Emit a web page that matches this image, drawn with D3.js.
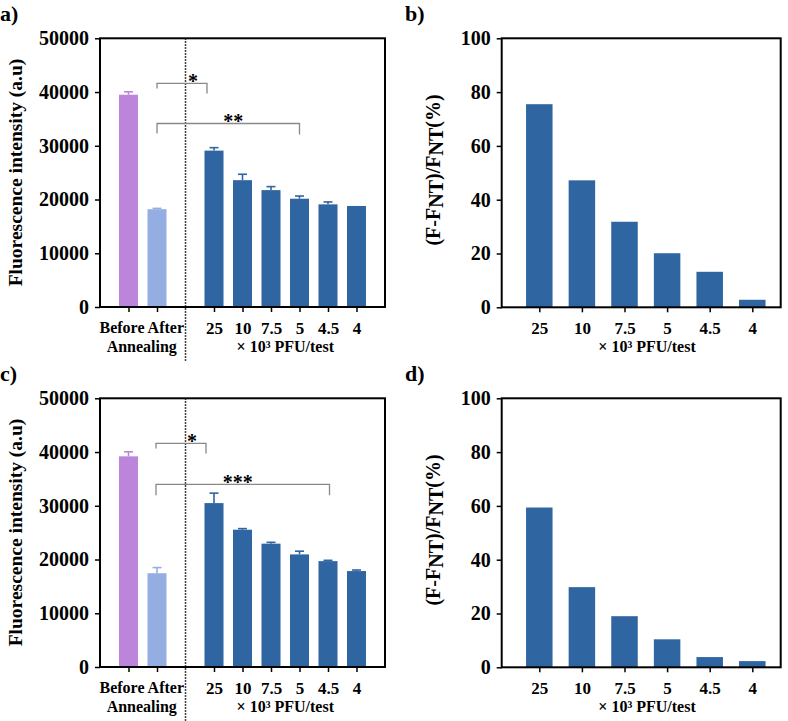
<!DOCTYPE html>
<html><head><meta charset="utf-8">
<script src="https://cdn.jsdelivr.net/npm/d3@7"></script>
<style>
body{margin:0;background:#fff}
svg text{font-family:"Liberation Serif","DejaVu Serif",serif !important;font-weight:bold;fill:#000}
</style>
</head><body><svg id="chart" width="788" height="721" font-family="Liberation Serif, serif"></svg>
<script>
// ---------- data ----------
const groupCats = ["Before","After","","25","10","7.5","5","4.5","4"];
const pfuLabels = ["25","10","7.5","5","4.5","4"];
const fluorA = [39500,18200,null,29100,23600,21750,20150,19100,18800];
const fluorAErr = [550,150,null,550,1100,650,500,450,0];
const fluorC = [39200,17450,null,30500,25550,22950,20950,19700,17850];
const fluorCErr = [850,1050,null,1850,200,250,600,150,200];
const pctB = [75.5,47.2,31.8,20.1,13.2,2.8];
const pctD = [59.4,29.8,19.0,10.4,3.8,2.3];
const fluorTicks = [0,10000,20000,30000,40000,50000];
const pctTicks = [0,20,40,60,80,100];
const sigA = [{from:"After",to:"25",level:41600,label:"*"},{from:"After",to:"5",level:34150,label:"**"}];
const sigC = [{from:"After",to:"25",level:41600,label:"*"},{from:"After",to:"4.5",level:34000,label:"***"}];
const groupText = "Before After", groupText2 = "Annealing", unitText = "× 10³ PFU/test";

const FONT = "'Liberation Serif', 'DejaVu Serif', serif";
const svg = d3.select("#chart");
const colorOf = c => c==="Before" ? "#BD84DB" : c==="After" ? "#95AEE1" : "#2F65A0";

function styleText(sel,size){ sel.attr("font-family",FONT).style("font-family",FONT).style("font-weight","bold").style("font-size",size+"px"); return sel; }
function panelLabel(t,x,y){ styleText(svg.append("text").attr("x",x).attr("y",y),22).text(t); }

function fluorPanel(oy, vals, errs, sigs, label, dottedEnd, bracketCfg){
  const g = svg.append("g").attr("transform",`translate(0,${oy})`);
  const x = d3.scaleLinear().domain([0,10]).range([100,385]);
  const y = d3.scaleLinear().domain([0,50000]).range([307,38.3]);
  const pos = c => x(groupCats.indexOf(c)+1);
  const bw = 19;
  const data = groupCats.map((c,i)=>({c,v:vals[i],e:errs[i]})).filter(d=>d.v!=null);
  g.selectAll("rect.bar").data(data).join("rect").attr("class","bar")
    .attr("x",d=>pos(d.c)-bw/2).attr("width",bw)
    .attr("y",d=>y(d.v)).attr("height",d=>y(0)-y(d.v)).attr("fill",d=>colorOf(d.c));
  const eb = g.selectAll("g.err").data(data.filter(d=>d.e>0)).join("g").attr("class","err")
    .attr("stroke",d=>colorOf(d.c)).attr("stroke-width",1.6);
  eb.append("line").attr("x1",d=>pos(d.c)).attr("x2",d=>pos(d.c)).attr("y1",d=>y(d.v)).attr("y2",d=>y(d.v+d.e));
  eb.append("line").attr("x1",d=>pos(d.c)-4.5).attr("x2",d=>pos(d.c)+4.5).attr("y1",d=>y(d.v+d.e)).attr("y2",d=>y(d.v+d.e));
  const ya = g.append("g").attr("transform","translate(100,0)")
    .call(d3.axisLeft(y).tickValues(fluorTicks).tickSize(5).tickPadding(6).tickFormat(d3.format("d")));
  ya.attr("font-family",FONT);
  ya.select(".domain").remove();
  ya.selectAll("line").attr("stroke","#000").attr("stroke-width",1.5);
  styleText(ya.selectAll("text"),20);
  const tickIdx = [1,2,4,5,6,7,8,9];
  const xa = g.append("g").attr("transform","translate(0,307)")
    .call(d3.axisBottom(x).tickValues(tickIdx).tickSize(5).tickPadding(10)
      .tickFormat(i => i>3 ? groupCats[i-1] : ""));
  xa.attr("font-family",FONT);
  xa.select(".domain").remove();
  xa.selectAll("line").attr("stroke","#000").attr("stroke-width",1.5);
  styleText(xa.selectAll("text"),17);
  const mid = (pos("Before")+pos("After"))/2 - 1;
  styleText(g.append("text").attr("x",mid).attr("y",333).attr("text-anchor","middle"),16).text(groupText);
  styleText(g.append("text").attr("x",mid).attr("y",352).attr("text-anchor","middle"),16).text(groupText2);
  styleText(g.append("text").attr("x",(pos("25")+pos("4"))/2).attr("y",352).attr("text-anchor","middle"),16).text(unitText);
  g.append("rect").attr("x",100).attr("y",38.3).attr("width",285).attr("height",307-38.3)
    .attr("fill","none").attr("stroke","#000").attr("stroke-width",2);
  g.append("line").attr("x1",x(3)).attr("x2",x(3)).attr("y1",38.3).attr("y2",dottedEnd)
    .attr("stroke","#000").attr("stroke-width",1.5).attr("stroke-dasharray","1.5,1.5");
  sigs.forEach((s,k)=>{
    const cfg = bracketCfg[k];
    const x1 = pos(s.from) + cfg.dx1, x2 = pos(s.to) + cfg.dx2, yy = y(s.level);
    g.append("path").attr("d",`M${x1},${yy+cfg.legL}V${yy}H${x2}V${yy+cfg.legR}`)
      .attr("fill","none").attr("stroke","#888").attr("stroke-width",1.3);
    styleText(g.append("text").attr("x",(x1+x2)/2+cfg.ldx).attr("y",yy+5).attr("text-anchor","middle"),20).text(s.label);
  });
  styleText(g.append("text").attr("transform","translate(22,172.5) rotate(-90)").attr("text-anchor","middle"),19.5)
    .text("Fluorescence intensity (a.u)");
  panelLabel(label,0,oy+21);
}

function pctPanel(oy, vals, label){
  const g = svg.append("g").attr("transform",`translate(0,${oy})`);
  const x = d3.scalePoint().domain(pfuLabels).range([539.3,752.3]);
  const y = d3.scaleLinear().domain([0,100]).range([307.3,38.3]);
  const bw = 26.5;
  g.selectAll("rect.bar").data(pfuLabels.map((c,i)=>({c,v:vals[i]}))).join("rect").attr("class","bar")
    .attr("x",d=>x(d.c)-bw/2).attr("width",bw).attr("y",d=>y(d.v)).attr("height",d=>y(0)-y(d.v))
    .attr("fill","#2F65A0");
  const ya = g.append("g").attr("transform","translate(501.7,0)")
    .call(d3.axisLeft(y).tickValues(pctTicks).tickSize(5).tickPadding(6));
  ya.attr("font-family",FONT);
  ya.select(".domain").remove();
  ya.selectAll("line").attr("stroke","#000").attr("stroke-width",1.5);
  styleText(ya.selectAll("text"),20);
  const xa = g.append("g").attr("transform","translate(0,307.3)")
    .call(d3.axisBottom(x).tickSize(5).tickPadding(10));
  xa.attr("font-family",FONT);
  xa.select(".domain").remove();
  xa.selectAll("line").attr("stroke","#000").attr("stroke-width",1.5);
  styleText(xa.selectAll("text"),17);
  styleText(g.append("text").attr("x",647).attr("y",352).attr("text-anchor","middle"),16).text(unitText);
  g.append("rect").attr("x",501.7).attr("y",38.3).attr("width",279).attr("height",269)
    .attr("fill","none").attr("stroke","#000").attr("stroke-width",2);
  const t = styleText(g.append("text").attr("transform","translate(440,170) rotate(-90)").attr("text-anchor","middle"),20);
  t.append("tspan").text("(F-F");
  t.append("tspan").attr("dy",3).text("NT");
  t.append("tspan").attr("dy",-3).text(")/F");
  t.append("tspan").attr("dy",3).text("NT");
  t.append("tspan").attr("dy",-3).text("(%)");
  panelLabel(label,405,oy+21);
}

fluorPanel(0, fluorA, fluorAErr, sigA, "a)", 362,
  [{dx1:0,dx2:-7,legL:5,legR:10,ldx:11},{dx1:0,dx2:0,legL:10,legR:11,ldx:5}]);
fluorPanel(360, fluorC, fluorCErr, sigC, "c)", 361,
  [{dx1:-1,dx2:-8,legL:5,legR:10,ldx:11},{dx1:-1,dx2:1.5,legL:11,legR:11,ldx:-5}]);
pctPanel(0, pctB, "b)");
pctPanel(360, pctD, "d)");
</script></body></html>
